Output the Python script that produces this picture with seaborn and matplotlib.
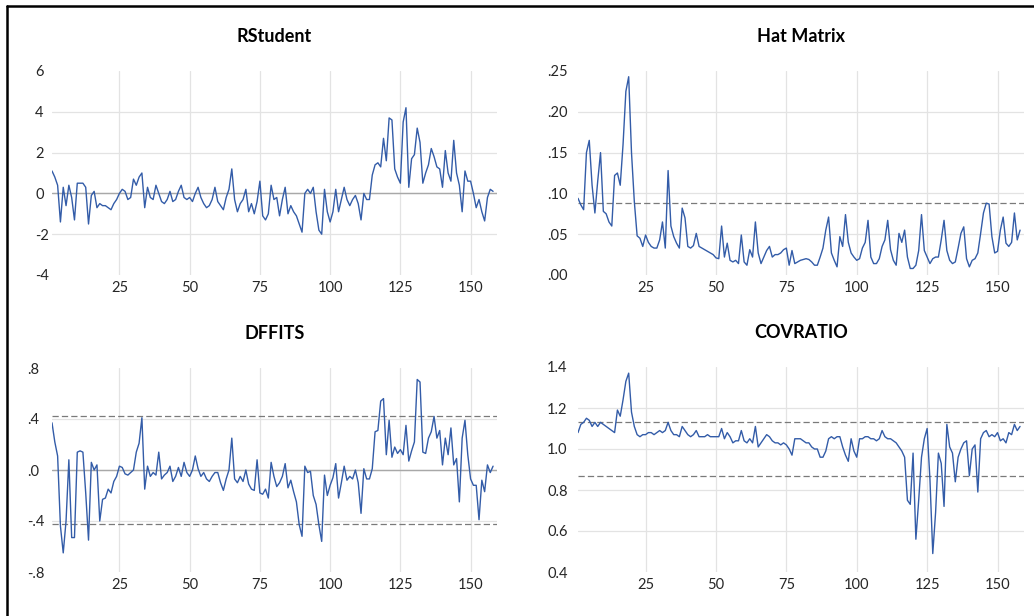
import matplotlib
matplotlib.use("Agg")
import pandas as pd
import matplotlib.pyplot as plt
import seaborn as sns
from matplotlib.lines import Line2D

obs = list(range(1, 159))

rstudent = [
    1.1, 0.8, 0.4, -1.4, 0.3, -0.6, 0.4, -0.2, -1.3, 0.5,
    0.5, 0.5, 0.3, -1.5, -0.1, 0.1, -0.7, -0.5, -0.6, -0.6,
    -0.7, -0.8, -0.5, -0.3, 0.0, 0.2, 0.1, -0.3, -0.2, 0.7,
    0.4, 0.8, 1.0, -0.7, 0.3, -0.2, -0.3, 0.4, 0.0, -0.4,
    -0.5, -0.3, 0.1, -0.4, -0.3, 0.1, 0.4, -0.2, -0.3, -0.2,
    -0.4, 0.0, 0.3, -0.2, -0.5, -0.7, -0.6, -0.3, 0.3, -0.4,
    -0.6, -0.8, -0.2, 0.2, 1.2, -0.3, -0.9, -0.5, -0.3, 0.2,
    -0.9, -0.5, -1.0, -0.4, 0.6, -1.1, -1.3, -1.0, 0.4, -0.3,
    -0.2, -1.1, -0.3, 0.3, -1.0, -0.6, -0.9, -1.1, -1.5, -1.9,
    0.0, 0.2, 0.0, 0.3, -0.9, -1.8, -2.0, 0.2, -0.9, -1.4,
    -0.9, 0.2, -0.9, -0.3, 0.3, -0.3, -0.6, -0.3, -0.1, -0.5,
    -1.3, 0.0, -0.3, -0.3, 0.9, 1.4, 1.5, 1.3, 2.7, 1.6,
    3.7, 3.6, 1.2, 0.8, 0.5, 3.5, 4.2, 0.3, 1.7, 1.9,
    3.2, 2.5, 0.5, 1.0, 1.4, 2.2, 1.8, 1.3, 1.2, 0.3,
    2.1, 1.0, 0.6, 2.6, 1.0, 0.4, -0.9, 1.1, 0.6, 0.6,
    0.0, -0.7, -0.3, -0.9, -1.35, -0.2, 0.2, 0.1,
]

hat = [
    .094, .086, .080, .150, .165, .110, .076, .115, .150, .078,
    .075, .065, .060, .122, .125, .110, .160, .225, .243, .150,
    .090, .048, .045, .035, .049, .040, .035, .033, .033, .043,
    .065, .033, .128, .060, .047, .039, .033, .082, .070, .035,
    .033, .036, .051, .035, .033, .031, .029, .027, .025, .021,
    .020, .060, .022, .039, .018, .016, .018, .014, .049, .016,
    .012, .031, .022, .065, .027, .014, .022, .030, .035, .022,
    .025, .025, .027, .031, .033, .012, .030, .014, .016, .018,
    .019, .020, .019, .016, .012, .012, .022, .033, .055, .071,
    .027, .018, .010, .047, .035, .074, .040, .027, .022, .018,
    .020, .033, .040, .067, .022, .014, .014, .020, .035, .043,
    .067, .031, .018, .012, .051, .040, .055, .022, .008, .008,
    .012, .030, .074, .030, .022, .014, .020, .022, .022, .043,
    .067, .030, .018, .014, .016, .033, .051, .059, .020, .010,
    .018, .020, .027, .051, .076, .088, .087, .047, .027, .029,
    .055, .071, .039, .035, .040, .076, .043, .055,
]

dffits = [
    .37, .22, .11, -.44, -.65, -.40, .08, -.53, -.53, .14,
    .15, .14, -.18, -.55, .06, .00, .04, -.40, -.23, -.22,
    -.15, -.18, -.09, -.05, .03, .02, -.03, -.04, -.02, .00,
    .14, .21, .41, -.15, .03, -.05, -.02, -.04, .14, -.07,
    -.04, -.02, .03, -.09, -.05, .02, -.05, .06, -.02, -.05,
    .00, .11, .01, -.05, -.02, -.07, -.09, -.05, -.02, -.02,
    -.10, -.16, -.07, .00, .25, -.07, -.10, -.05, -.09, .00,
    -.11, -.15, -.16, .08, -.18, -.19, -.15, -.22, .06, -.05,
    -.13, -.10, -.05, .05, -.14, -.08, -.17, -.25, -.43, -.52,
    .03, -.02, -.01, -.20, -.27, -.43, -.56, -.04, -.20, -.12,
    -.06, .05, -.22, -.10, .03, -.08, -.05, -.07, .00, -.10,
    -.34, .01, -.07, -.07, .01, .30, .31, .54, .56, .12,
    .39, .10, .18, .13, .16, .12, .35, .07, .15, .22,
    .71, .69, .14, .13, .25, .30, .42, .25, .31, .04,
    .25, .12, .33, .04, .09, -.25, .25, .39, .12, -.07,
    -.12, -.12, -.39, -.08, -.17, .04, -.02, .03,
]

covratio = [
    1.08, 1.12, 1.13, 1.15, 1.14, 1.11, 1.13, 1.11, 1.13, 1.12,
    1.11, 1.10, 1.09, 1.08, 1.19, 1.16, 1.24, 1.33, 1.37, 1.18,
    1.11, 1.07, 1.06, 1.07, 1.07, 1.08, 1.08, 1.07, 1.08, 1.09,
    1.08, 1.09, 1.13, 1.09, 1.07, 1.07, 1.06, 1.11, 1.09, 1.07,
    1.06, 1.07, 1.09, 1.06, 1.06, 1.06, 1.07, 1.06, 1.06, 1.06,
    1.06, 1.10, 1.05, 1.08, 1.06, 1.03, 1.04, 1.04, 1.09, 1.04,
    1.03, 1.05, 1.03, 1.11, 1.01, 1.03, 1.05, 1.07, 1.06, 1.04,
    1.03, 1.03, 1.02, 1.03, 1.02, 1.00, 0.97, 1.05, 1.05, 1.05,
    1.04, 1.03, 1.03, 1.01, 1.00, 1.00, 0.96, 0.96, 0.99, 1.05,
    1.06, 1.05, 1.06, 1.06, 1.01, 0.97, 0.94, 1.05, 0.99, 0.96,
    1.05, 1.05, 1.06, 1.06, 1.05, 1.05, 1.04, 1.05, 1.09, 1.06,
    1.05, 1.05, 1.04, 1.03, 1.01, 0.99, 0.96, 0.75, 0.73, 0.98,
    0.56, 0.75, 0.96, 1.05, 1.10, 0.85, 0.49, 0.69, 0.98, 0.93,
    0.72, 1.12, 1.01, 0.98, 0.84, 0.96, 1.00, 1.03, 1.04, 0.87,
    1.00, 1.02, 0.79, 1.05, 1.08, 1.09, 1.06, 1.07, 1.06, 1.08,
    1.04, 1.05, 1.03, 1.08, 1.07, 1.12, 1.09, 1.11,
]

x_ticks = [25, 50, 75, 100, 125, 150]

rstudent_ticks = [-4, -2, 0, 2, 4, 6]
rstudent_labels = ["-4", "-2", "0", "2", "4", "6"]
hat_ticks = [0.00, 0.05, 0.10, 0.15, 0.20, 0.25]
hat_labels = [".00", ".05", ".10", ".15", ".20", ".25"]
dffits_ticks = [-0.8, -0.4, 0.0, 0.4, 0.8]
dffits_labels = ["-.8", "-.4", ".0", ".4", ".8"]
cov_ticks = [0.4, 0.6, 0.8, 1.0, 1.2, 1.4]
cov_labels = ["0.4", "0.6", "0.8", "1.0", "1.2", "1.4"]

# cut-off lines (k = 7, n = 158)
hat_cut = [0.0886]
dffits_cut = [0.421, -0.421]
cov_cut = [1.133, 0.867]

# 2. Style
sns.set_theme(style="white")
plt.rcParams["font.family"] = ["Lato", "DejaVu Sans"]

LINE = "#335ca8"
GRID = "#e3e3e3"
ZERO = "#a8a8a8"
CUT = "#7a7a7a"
TEXT = "#262626"

W, H = 1034, 616
fig = plt.figure(figsize=(W / 100, H / 100), dpi=100)
fig.patch.set_facecolor("white")


def rect(left, top, right, bottom):
    return [left / W, 1 - bottom / H, (right - left) / W, (bottom - top) / H]


def panel(box, values, title, ticks, labels, cuts, zero_line, label_px):
    ax = fig.add_axes(box)
    df = pd.DataFrame({"obs": obs, "value": values})

    for t in ticks[1:-1]:
        ax.axhline(t, color=GRID, lw=0.9, zorder=0)
    for t in x_ticks:
        ax.axvline(t, color=GRID, lw=0.9, zorder=0)
    if zero_line:
        ax.axhline(0, color=ZERO, lw=1.0, zorder=1)
    for c in cuts:
        ax.axhline(c, color=CUT, lw=0.9, ls=(0, (5, 2.5)), zorder=1)

    sns.lineplot(data=df, x="obs", y="value", ax=ax, color=LINE, lw=1.0, zorder=2)

    ax.set_xlim(1, 159.4)
    ax.set_ylim(ticks[0], ticks[-1])
    ax.set_xticks(x_ticks)
    ax.set_xticklabels([str(t) for t in x_ticks])
    ax.set_yticks(ticks)
    ax.set_yticklabels(labels)
    ax.set_xlabel("")
    ax.set_ylabel("")
    for s in ax.spines.values():
        s.set_visible(False)
    ax.tick_params(axis="x", length=0, pad=4.5, labelsize=10.5, labelcolor=TEXT)
    ax.tick_params(axis="y", length=0, pad=label_px * 0.72, labelsize=10.5, labelcolor=TEXT)
    for lab in ax.get_yticklabels():
        lab.set_ha("left")
    ax.set_title(title, fontsize=13, fontweight="bold", color="black", pad=21)
    return ax


panel(rect(52, 71, 497, 275), rstudent, "RStudent", rstudent_ticks, rstudent_labels, [], True, 17)
panel(rect(578, 71, 1024, 275), hat, "Hat Matrix", hat_ticks, hat_labels, hat_cut, False, 31)
panel(rect(52, 368, 497, 572), dffits, "DFFITS", dffits_ticks, dffits_labels, dffits_cut, True, 25)
panel(rect(578, 367, 1024, 572), covratio, "COVRATIO", cov_ticks, cov_labels, cov_cut, False, 31)

# frame around the picture (left and top edges visible)
fig.add_artist(Line2D([7 / W, 7 / W], [0, 1 - 6 / H], color="black", lw=1.8))
fig.add_artist(Line2D([7 / W, 1], [1 - 6 / H, 1 - 6 / H], color="black", lw=1.8))

plt.savefig("out.png", dpi=100)
plt.close()
